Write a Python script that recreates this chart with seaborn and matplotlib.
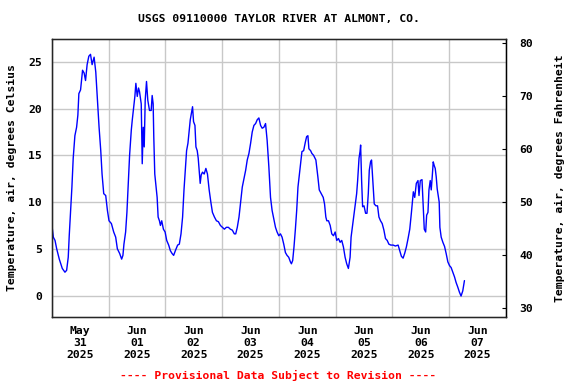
import matplotlib
matplotlib.use("Agg")
import matplotlib.dates as mdates
import matplotlib.pyplot as plt
import matplotlib.ticker as mticker
import pandas as pd
import seaborn as sns

# ---------------------------------------------------------------------------
# Data (hours after 2025-05-31 00:00, air temp in C)
# ---------------------------------------------------------------------------
START = "2025-05-31 00:00"

hours = [
    0.00, 0.67, 1.39, 2.10, 3.19, 4.46, 5.59, 6.30, 6.98, 7.40, 7.99, 8.53,
    9.08, 9.79, 10.51, 11.05, 11.47, 12.19, 13.03, 13.70, 14.29, 14.96, 15.68,
    16.39, 17.07, 17.91, 18.62, 19.33, 20.01, 20.72, 21.27, 21.98, 22.82,
    23.54, 24.21, 25.22, 26.19, 27.03, 27.74, 28.71, 29.55, 30.09, 30.52,
    31.23, 31.78, 32.49, 32.91, 33.63, 34.05, 34.59, 35.14, 35.56, 36.15,
    36.69, 37.11, 37.83, 38.25, 38.67, 39.09, 39.51, 40.06, 40.60, 41.32,
    42.03, 42.45, 42.87, 43.13, 43.55, 44.13, 44.55, 44.97, 45.52, 45.94,
    46.49, 47.20, 47.92, 48.59, 49.43, 50.14, 50.86, 51.53, 52.25, 53.21,
    53.93, 54.64, 55.31, 55.90, 56.45, 57.00, 57.58, 58.13, 58.55, 59.10,
    59.52, 59.94, 60.53, 60.95, 61.49, 61.91, 62.33, 62.75, 63.17, 63.72,
    64.44, 65.15, 65.82, 66.54, 67.25, 67.92, 68.77, 69.61, 70.45, 71.29,
    72.13, 72.97, 73.81, 74.65, 75.49, 76.33, 77.17, 77.76, 78.43, 79.15,
    79.86, 80.53, 81.25, 81.96, 82.63, 83.35, 84.06, 84.74, 85.45, 86.17,
    86.84, 87.55, 88.27, 88.94, 89.65, 90.37, 91.04, 91.76, 92.47, 93.14,
    93.86, 94.57, 95.24, 95.96, 96.67, 97.35, 98.06, 98.77, 99.45, 100.16,
    100.88, 101.30, 101.84, 102.39, 102.98, 103.53, 104.07, 104.66, 105.21,
    105.75, 106.47, 107.18, 107.73, 108.27, 108.69, 109.41, 109.96, 110.67,
    111.64, 112.48, 113.07, 113.91, 114.75, 115.30, 115.85, 116.26, 116.97,
    117.69, 118.36, 119.08, 119.79, 120.46, 121.18, 121.89, 122.57, 123.28,
    123.99, 124.67, 125.38, 126.10, 126.52, 127.06, 127.61, 128.20, 128.87,
    129.29, 129.88, 130.30, 130.55, 130.97, 131.39, 131.98, 132.65, 133.24,
    133.79, 134.21, 134.75, 135.17, 135.60, 136.31, 137.03, 137.70, 138.29,
    138.96, 139.67, 140.39, 141.06, 141.78, 142.49, 143.33, 144.30, 145.26,
    146.40, 147.11, 147.78, 148.50, 149.21, 149.89, 150.60, 151.32, 151.99,
    152.41, 152.83, 153.42, 154.09, 154.80, 155.22, 155.77, 156.49, 157.03,
    157.45, 158.04, 158.46, 159.01, 159.43, 159.97, 160.39, 160.81, 161.24,
    161.66, 162.08, 162.50, 162.92, 163.34, 163.76, 164.05, 164.60, 165.31,
    166.03, 166.70, 167.42, 168.13, 168.80, 169.52, 170.23, 170.90, 171.62,
    172.33, 173.00, 173.72, 174.43,
]

temp_c = [
    7.7, 6.25, 5.9, 5.0, 3.9, 2.9, 2.5, 2.7, 4.1, 6.4, 9.1, 11.6,
    14.7, 17.1, 18.0, 19.3, 21.6, 22.0, 24.1, 23.8, 23.0, 24.7, 25.6,
    25.8, 24.7, 25.5, 23.9, 20.9, 18.0, 15.5, 13.0, 10.9, 10.7,
    9.1, 8.0, 7.7, 6.8, 6.25, 5.0, 4.5, 3.9, 4.3, 5.5,
    6.8, 8.9, 12.7, 15.0, 17.7, 18.8, 20.0, 21.3, 22.7, 21.3,
    22.2, 21.8, 20.5, 14.1, 18.0, 15.9, 20.9, 22.9, 20.9, 19.8,
    19.8, 21.4, 20.5, 17.0, 13.0, 11.6, 10.5, 8.4, 8.0, 7.5,
    8.0, 7.1, 6.8, 5.9, 5.4, 4.8, 4.5, 4.3, 4.8, 5.4,
    5.5, 6.6, 8.4, 11.3, 13.4, 15.5, 16.3, 17.7, 18.8, 19.6,
    20.2, 18.6, 18.2, 15.9, 15.5, 14.7, 13.4, 12.0, 12.9, 13.2,
    13.0, 13.6, 13.0, 11.3, 10.0, 8.9, 8.4, 8.0, 7.9, 7.5,
    7.3, 7.1, 7.3, 7.3, 7.1, 7.0, 6.6, 6.6, 7.3, 8.4,
    10.0, 11.6, 12.5, 13.4, 14.5, 15.2, 16.3, 17.5, 18.2, 18.4,
    18.8, 19.0, 18.2, 17.9, 18.0, 18.4, 16.6, 13.8, 10.5, 9.1,
    8.2, 7.3, 6.8, 6.4, 6.6, 6.25, 5.5, 4.6, 4.3, 4.1,
    3.6, 3.4, 3.75, 5.2, 7.1, 9.1, 11.6, 12.9, 14.1,
    15.4, 15.5, 16.4, 17.0, 17.1, 15.7, 15.5, 15.2, 15.0,
    14.5, 12.7, 11.3, 10.9, 10.5, 9.8, 8.4, 8.0, 8.0,
    7.5, 6.6, 6.4, 6.8, 5.9, 6.1, 5.7, 5.9, 5.2,
    4.1, 3.4, 2.9, 4.1, 6.25, 7.3, 8.4, 9.5, 10.9,
    12.3, 14.7, 15.4, 16.1, 12.3, 9.5, 9.6, 8.8, 8.8,
    10.9, 13.4, 14.3, 14.5, 12.7, 9.8, 9.6, 9.6, 8.4,
    8.0, 7.7, 7.0, 6.1, 5.9, 5.5, 5.4, 5.4, 5.3,
    5.4, 4.8, 4.2, 4.0, 4.55, 5.2, 6.1, 7.1, 8.8,
    10.0, 11.1, 10.5, 12.0, 12.3, 10.7, 12.3, 12.4, 9.5,
    7.1, 6.8, 8.6, 8.9, 11.3, 12.3, 11.3, 12.7, 14.3,
    13.9, 13.6, 12.7, 11.4, 10.7, 10.0, 7.3, 6.25, 5.7,
    5.25, 4.5, 3.6, 3.2, 3.0, 2.5, 2.0, 1.4, 0.9,
    0.35, -0.05, 0.5, 1.6,
]

celsius_ticks = [0, 5, 10, 15, 20, 25]
fahrenheit_ticks = [30, 40, 50, 60, 70, 80]

TITLE = "USGS 09110000 TAYLOR RIVER AT ALMONT, CO."
LEFT_LABEL = "Temperature, air, degrees Celsius"
RIGHT_LABEL = "Temperature, air, degrees Fahrenheit"
FOOTER = "---- Provisional Data Subject to Revision ----"

# ---------------------------------------------------------------------------
# Plot
# ---------------------------------------------------------------------------
sns.set_style("white")
plt.rcParams["font.family"] = ["DejaVu Sans Mono"]
plt.rcParams["font.weight"] = "bold"
for key in ("text.color", "axes.labelcolor", "xtick.color", "ytick.color"):
    plt.rcParams[key] = "black"
FS = 8.2

df = pd.DataFrame({
    "time": pd.Timestamp(START) + pd.to_timedelta(hours, unit="h"),
    "temp": temp_c,
})

fig = plt.figure(figsize=(5.76, 3.84), dpi=100)
ax = fig.add_axes([0.0898, 0.1755, 0.7887, 0.7229])

sns.lineplot(data=df, x="time", y="temp", color="#0000ff", linewidth=1.0,
             estimator=None, ax=ax)

ax.set_xlim(pd.Timestamp("2025-05-31"), pd.Timestamp("2025-06-08"))
ax.set_ylim(-2.25, 27.44)

# day boundaries carry the grid, noon carries the labels
ax.xaxis.set_major_locator(mdates.DayLocator())
ax.xaxis.set_major_formatter(mticker.NullFormatter())
ax.xaxis.set_minor_locator(mdates.HourLocator(byhour=[12]))
ax.xaxis.set_minor_formatter(mdates.DateFormatter("%b\n%d\n%Y"))
ax.set_yticks(celsius_ticks)

ax.grid(True, which="major", color="#c8c8c8", linewidth=1.0)
ax.tick_params(axis="x", which="both", length=0, pad=7, labelsize=FS)
ax.tick_params(axis="y", length=0, pad=7, labelsize=FS)
for lab in ax.get_xticklabels(minor=True):
    lab.set_linespacing(1.25)
    lab.set_fontweight("bold")

ax.set_xlabel("")
ax.set_ylabel(LEFT_LABEL, fontsize=FS, fontweight="bold", labelpad=8)
for side in ax.spines.values():
    side.set_color("black")
    side.set_linewidth(1.0)

ax2 = ax.twinx()
ax2.set_ylim(28.35, 80.8)
ax2.set_yticks(fahrenheit_ticks)
ax2.tick_params(axis="y", direction="in", length=3, pad=9.5, labelsize=FS)
ax2.set_ylabel(RIGHT_LABEL, fontsize=FS, fontweight="bold", labelpad=16)
ax2.grid(False)
ax2.spines["right"].set_color("black")

fig.text(0.484, 0.9505, TITLE, ha="center", va="center", fontsize=FS,
         fontweight="bold")
fig.text(0.482, 0.0234, FOOTER, ha="center", va="center", fontsize=FS,
         fontweight="bold", color="red")

fig.savefig("out.png", dpi=100)
plt.close(fig)
